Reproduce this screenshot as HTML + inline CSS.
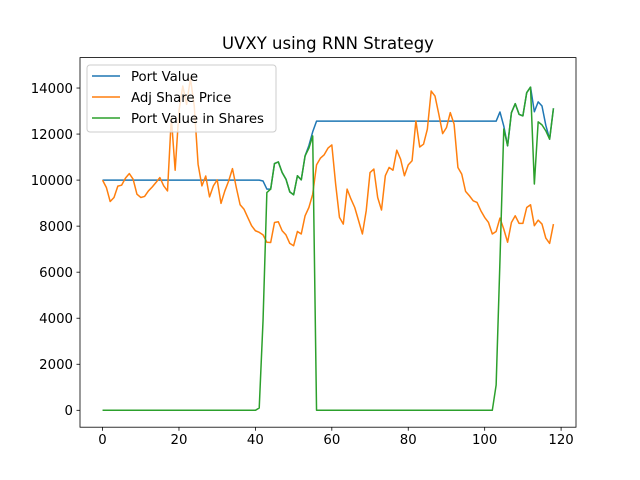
<!DOCTYPE html>
<html><head><meta charset="utf-8"><style>
body{margin:0;background:#fff}
svg{display:block;font-family:"DejaVu Sans","Liberation Sans",sans-serif}
</style></head><body>
<svg id="chart" width="640" height="480">
<rect width="640" height="480" fill="#fff"/>
<text x="328" y="49" text-anchor="middle" font-size="16.5">UVXY using RNN Strategy</text>
<g id="plot"></g>
</svg>
<script>
const adjPrice=[10000,9680,9070,9245,9740,9780,10085,10285,10040,9390,9245,9290,9530,9700,9900,10110,9750,9530,12710,10430,13000,14090,13290,14420,13220,10690,9750,10180,9270,9750,10010,8990,9530,9960,10500,9680,8930,8740,8380,8020,7800,7730,7620,7300,7290,8160,8190,7800,7620,7250,7150,7770,7660,8450,8810,9390,10660,10950,11100,11390,11530,9830,8380,8090,9610,9180,8810,8240,7660,8670,10330,10480,9245,8700,10190,10550,10430,11300,10910,10190,10660,10840,12570,11440,11560,12210,13870,13650,12860,12020,12280,12930,12430,10550,10260,9510,9320,9100,9030,8670,8380,8160,7660,7770,8350,7870,7300,8160,8450,8120,8120,8810,8930,8020,8260,8090,7480,7250,8090];
const portShares=[
0,0,0,0,0,0,0,0,0,0,
0,0,0,0,0,0,0,0,0,0,
0,0,0,0,0,0,0,0,0,0,
0,0,0,0,0,0,0,0,0,0,
0,
100,3900,9460,9610,10720,10790,10330,10040,9490,9360,10190,10010,11050,11390,11920,
0,0,0,0,0,0,0,0,0,0,
0,0,0,0,0,0,0,0,0,0,
0,0,0,0,0,0,0,0,0,0,
0,0,0,0,0,0,0,0,0,0,
0,0,0,0,0,0,0,
1100,6500,12220,11490,12930,13320,12860,12790,13800,14040,9830,12530,12400,12140,11780,13120];
const portValue=[
10000,10000,10000,10000,10000,10000,10000,10000,10000,10000,
10000,10000,10000,10000,10000,10000,10000,10000,10000,10000,
10000,10000,10000,10000,10000,10000,10000,10000,10000,10000,
10000,10000,10000,10000,10000,10000,10000,10000,10000,10000,
10000,10000,
9960,9610,9610,10720,10790,10330,10040,9490,9360,10190,10010,11050,11500,12100,
12560,12560,12560,12560,12560,12560,12560,12560,12560,12560,
12560,12560,12560,12560,12560,12560,12560,12560,12560,12560,
12560,12560,12560,12560,12560,12560,12560,12560,12560,12560,
12560,12560,12560,12560,12560,12560,12560,12560,12560,12560,
12560,12560,12560,12560,12560,12560,12560,12560,
12960,12350,11490,12930,13320,12860,12790,13800,14040,12970,13400,13220,12380,11780,13120];
const xTicks=[0,20,40,60,80,100,120];
const yTicks=[0,2000,4000,6000,8000,10000,12000,14000];
const seriesNames=["Port Value","Adj Share Price","Port Value in Shares"];

const L=80,R=576,T=57.6,B=427.2;
const xMin=-5.9,xMax=123.9,yMin=-734,yMax=15322;
const xs=v=>L+(v-xMin)/(xMax-xMin)*(R-L);
const ys=v=>B-(v-yMin)/(yMax-yMin)*(B-T);
const NS="http://www.w3.org/2000/svg";
const g=document.getElementById('plot');
function mk(t,a){const e=document.createElementNS(NS,t);for(const k in a)e.setAttribute(k,a[k]);g.appendChild(e);return e;}

function line(data,color,name){
  const p=mk('polyline',{points:data.map((v,i)=>xs(i).toFixed(2)+','+ys(v).toFixed(2)).join(' '),fill:'none',stroke:color,'stroke-width':1.5,'stroke-linejoin':'round'});
  
  
}
line(portValue,'#1f77b4','port-value-line');
line(adjPrice,'#ff7f0e','adj-share-price-line');
line(portShares,'#2ca02c','port-value-in-shares-line');

const frame=mk('rect',{x:L,y:T,width:R-L,height:B-T,fill:'none',stroke:'#000','stroke-width':0.8});



xTicks.forEach(t=>{
  const tk=mk('line',{x1:xs(t),x2:xs(t),y1:B,y2:B+3.5,stroke:'#000','stroke-width':0.8});
  
  
  const tx=mk('text',{x:xs(t),y:B+17,'text-anchor':'middle','font-size':13.3});
  tx.textContent=t;
  
  
});
yTicks.forEach(t=>{
  const tk=mk('line',{x1:L-3.5,x2:L,y1:ys(t),y2:ys(t),stroke:'#000','stroke-width':0.8});
  
  
  const tx=mk('text',{x:L-7,y:ys(t)+4.8,'text-anchor':'end','font-size':13.3});
  tx.textContent=t;
  
  
});

const lg=mk('rect',{x:87,y:65,width:189,height:67,rx:3,fill:'#fff','fill-opacity':0.8,stroke:'#ccc','stroke-width':1});


const cols=['#1f77b4','#ff7f0e','#2ca02c'];
seriesNames.forEach((n,i)=>{
  const y=76+i*21;
  const ln=mk('line',{x1:92,x2:120,y1:y,y2:y,stroke:cols[i],'stroke-width':1.5});
  
  
  const tx=mk('text',{x:131,y:y+5,'font-size':13.3});
  tx.textContent=n;
  
  
});
</script>
</body></html>
